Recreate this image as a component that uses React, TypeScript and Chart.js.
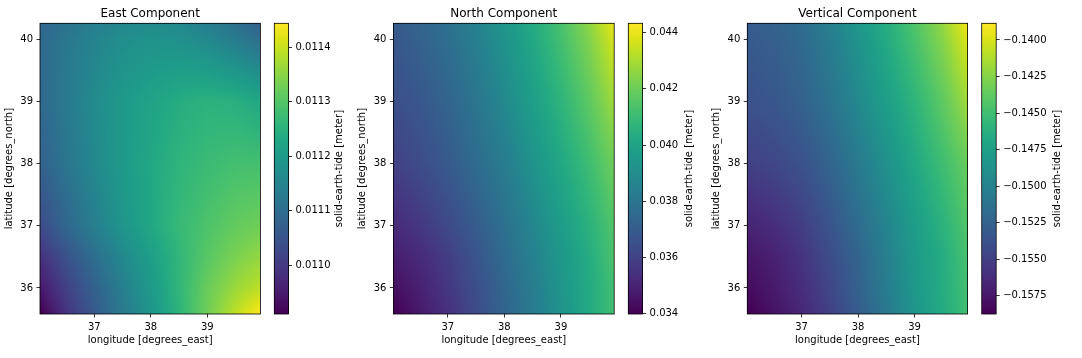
import React, { useEffect, useRef } from 'react';
import { Chart, registerables } from 'chart.js';

Chart.register(...registerables);

// ---------------- data ----------------
const LON_NODES = [36.05, 36.5, 37, 37.5, 38, 38.5, 39, 39.5, 39.95];
const LAT_NODES = [40.25, 40, 39, 38, 37, 36.5, 36, 35.6];

const LON_RANGE = [36.04, 39.94];
const LAT_RANGE = [35.58, 40.26];
const LON_TICKS = [37, 38, 39];
const LAT_TICKS = [36, 37, 38, 39, 40];

// rows follow LAT_NODES (north to south), columns follow LON_NODES (west to east)
const EAST_VALUES = [
  [0.011086, 0.011113, 0.01114, 0.011156, 0.011166, 0.011161, 0.01114, 0.011108, 0.01107],
  [0.011092, 0.011124, 0.01115, 0.011172, 0.011182, 0.011177, 0.011161, 0.011134, 0.011102],
  [0.011092, 0.011129, 0.011166, 0.011198, 0.01122, 0.011241, 0.011252, 0.011246, 0.01123],
  [0.011076, 0.011118, 0.011161, 0.011198, 0.01123, 0.011257, 0.011273, 0.011284, 0.011284],
  [0.011033, 0.011086, 0.01114, 0.011188, 0.01123, 0.011268, 0.011294, 0.011316, 0.011327],
  [0.010985, 0.011044, 0.011102, 0.011161, 0.011209, 0.011262, 0.011305, 0.011337, 0.011359],
  [0.010947, 0.011011, 0.011076, 0.01114, 0.011198, 0.011262, 0.011321, 0.011364, 0.011391],
  [0.01091, 0.01099, 0.01106, 0.011129, 0.011188, 0.011257, 0.011327, 0.011391, 0.011444],
];

const NORTH_VALUES = [
  [0.03699, 0.0373, 0.03782, 0.03854, 0.03937, 0.0403, 0.04133, 0.04257, 0.04402],
  [0.03678, 0.0372, 0.03771, 0.03844, 0.03926, 0.04019, 0.04123, 0.04237, 0.04371],
  [0.03647, 0.03678, 0.0373, 0.03802, 0.03885, 0.03978, 0.04071, 0.04174, 0.04288],
  [0.03595, 0.03637, 0.03689, 0.03761, 0.03833, 0.03926, 0.04019, 0.04112, 0.04206],
  [0.03523, 0.03564, 0.03626, 0.03699, 0.03782, 0.03875, 0.03968, 0.04061, 0.04154],
  [0.03482, 0.03523, 0.03585, 0.03668, 0.03761, 0.03854, 0.03947, 0.0404, 0.04143],
  [0.0344, 0.03492, 0.03564, 0.03647, 0.0374, 0.03833, 0.03937, 0.0403, 0.04123],
  [0.03399, 0.03471, 0.03544, 0.03637, 0.0373, 0.03833, 0.03926, 0.0403, 0.04123],
];

const VERTICAL_VALUES = [
  [-0.15298, -0.15258, -0.15179, -0.1502, -0.14821, -0.14642, -0.14443, -0.14204, -0.13926],
  [-0.15318, -0.15278, -0.15199, -0.1504, -0.14861, -0.14662, -0.14463, -0.14244, -0.13985],
  [-0.15378, -0.15338, -0.15258, -0.15119, -0.1494, -0.14761, -0.14582, -0.14383, -0.14164],
  [-0.15497, -0.15457, -0.15378, -0.15239, -0.1506, -0.14881, -0.14682, -0.14503, -0.14343],
  [-0.15676, -0.15616, -0.15517, -0.15358, -0.15179, -0.1498, -0.14781, -0.14602, -0.14423],
  [-0.15756, -0.15696, -0.15577, -0.15418, -0.15239, -0.1502, -0.14801, -0.14642, -0.14463],
  [-0.15815, -0.15736, -0.15616, -0.15457, -0.15258, -0.1504, -0.14821, -0.14642, -0.14483],
  [-0.15875, -0.15776, -0.15656, -0.15497, -0.15298, -0.15079, -0.14841, -0.14662, -0.14483],
];

const EAST_RANGE = [0.01091, 0.011444];
const NORTH_RANGE = [0.03399, 0.04433];
const VERTICAL_RANGE = [-0.15875, -0.13886];

const EAST_TICKS = [0.011, 0.0111, 0.0112, 0.0113, 0.0114];
const EAST_TICK_LABELS = ['0.0110', '0.0111', '0.0112', '0.0113', '0.0114'];
const NORTH_TICKS = [0.034, 0.036, 0.038, 0.04, 0.042, 0.044];
const NORTH_TICK_LABELS = ['0.034', '0.036', '0.038', '0.040', '0.042', '0.044'];
const VERTICAL_TICKS = [-0.1575, -0.155, -0.1525, -0.15, -0.1475, -0.145, -0.1425, -0.14];
const VERTICAL_TICK_LABELS = [
  '\u22120.1575', '\u22120.1550', '\u22120.1525', '\u22120.1500',
  '\u22120.1475', '\u22120.1450', '\u22120.1425', '\u22120.1400',
];

const TITLES = ['East Component', 'North Component', 'Vertical Component'];
const X_LABEL = 'longitude [degrees_east]';
const Y_LABEL = 'latitude [degrees_north]';
const CB_LABEL = 'solid-earth-tide [meter]';

// ---------------- style / layout ----------------
const VIRIDIS = [
  '#440154', '#471365', '#482475', '#463480', '#414487', '#3b528b', '#355f8d',
  '#2f6c8e', '#2a788e', '#25848e', '#21918c', '#1e9c89', '#22a884', '#2fb47c',
  '#44bf70', '#5ec962', '#7ad151', '#9bd93c', '#bddf26', '#dfe318', '#fde725',
];
const VIRIDIS_RGB = VIRIDIS.map((h) => [
  parseInt(h.slice(1, 3), 16),
  parseInt(h.slice(3, 5), 16),
  parseInt(h.slice(5, 7), 16),
]);

function viridis(t: number): number[] {
  const tt = Math.max(0, Math.min(1, t)) * (VIRIDIS_RGB.length - 1);
  const i = Math.min(VIRIDIS_RGB.length - 2, Math.floor(tt));
  const f = tt - i;
  const a = VIRIDIS_RGB[i];
  const b = VIRIDIS_RGB[i + 1];
  return [a[0] + (b[0] - a[0]) * f, a[1] + (b[1] - a[1]) * f, a[2] + (b[2] - a[2]) * f];
}

function locate(nodes: number[], v: number): [number, number] {
  for (let i = 0; i < nodes.length - 1; i++) {
    const a = nodes[i];
    const b = nodes[i + 1];
    if (v >= Math.min(a, b) && v <= Math.max(a, b)) return [i, (v - a) / (b - a)];
  }
  const asc = nodes[nodes.length - 1] > nodes[0];
  if ((v < nodes[0]) === asc) return [0, 0];
  return [nodes.length - 2, 1];
}

const H = 358;
const PLOT_TOP = 23.3;
const PLOT_BOTTOM = 314;
const FONT = "'DejaVu Sans', 'Liberation Sans', sans-serif";

Chart.defaults.font.family = FONT;
Chart.defaults.font.size = 10;
Chart.defaults.color = '#000';

type Panel = {
  title: string;
  values: number[][];
  range: number[];
  ticks: number[];
  tickLabels: string[];
  plotL: number;
  plotR: number;
  canvasL: number;
  canvasW: number;
  cbL: number;
  cbR: number;
  cbCanvasL: number;
  cbCanvasW: number;
  cbLabelX: number;
};

const PANELS: Panel[] = [
  {
    title: TITLES[0], values: EAST_VALUES, range: EAST_RANGE, ticks: EAST_TICKS, tickLabels: EAST_TICK_LABELS,
    plotL: 40, plotR: 260.4, canvasL: 0, canvasW: 271,
    cbL: 274.3, cbR: 288.5, cbCanvasL: 270, cbCanvasW: 100, cbLabelX: 339.5,
  },
  {
    title: TITLES[1], values: NORTH_VALUES, range: NORTH_RANGE, ticks: NORTH_TICKS, tickLabels: NORTH_TICK_LABELS,
    plotL: 393.4, plotR: 614.2, canvasL: 353, canvasW: 272,
    cbL: 628.3, cbR: 642.6, cbCanvasL: 624, cbCanvasW: 100, cbLabelX: 689,
  },
  {
    title: TITLES[2], values: VERTICAL_VALUES, range: VERTICAL_RANGE, ticks: VERTICAL_TICKS, tickLabels: VERTICAL_TICK_LABELS,
    plotL: 747.3, plotR: 967.6, canvasL: 707, canvasW: 272,
    cbL: 981.7, cbR: 996.2, cbCanvasL: 977, cbCanvasW: 105, cbLabelX: 1057,
  },
];

const framePlugin = {
  id: 'frame',
  afterDraw(chart: any) {
    const { ctx, chartArea: a } = chart;
    ctx.save();
    ctx.strokeStyle = '#000';
    ctx.lineWidth = 0.8;
    ctx.strokeRect(a.left, a.top, a.right - a.left, a.bottom - a.top);
    ctx.restore();
  },
};

function heatPlugin(p: Panel) {
  return {
    id: 'heat',
    beforeDatasetsDraw(chart: any) {
      const { ctx, chartArea: a, scales } = chart;
      const aw = a.right - a.left;
      const ah = a.bottom - a.top;
      const w = Math.round(aw);
      const h = Math.round(ah);
      const off = document.createElement('canvas');
      off.width = w;
      off.height = h;
      const octx = off.getContext('2d')!;
      const img = octx.createImageData(w, h);
      const cols: [number, number][] = [];
      for (let i = 0; i < w; i++) {
        const lon = scales.x.getValueForPixel(a.left + ((i + 0.5) * aw) / w);
        cols.push(locate(LON_NODES, lon));
      }
      const rows: [number, number][] = [];
      for (let j = 0; j < h; j++) {
        const lat = scales.y.getValueForPixel(a.top + ((j + 0.5) * ah) / h);
        rows.push(locate(LAT_NODES, lat));
      }
      const vals = p.values;
      const [vmin, vmax] = p.range;
      for (let j = 0; j < h; j++) {
        const [r, fy] = rows[j];
        for (let i = 0; i < w; i++) {
          const [c, fx] = cols[i];
          const top = vals[r][c] * (1 - fx) + vals[r][c + 1] * fx;
          const bot = vals[r + 1][c] * (1 - fx) + vals[r + 1][c + 1] * fx;
          const v = top * (1 - fy) + bot * fy;
          const col = viridis((v - vmin) / (vmax - vmin));
          const k = (j * w + i) * 4;
          img.data[k] = col[0];
          img.data[k + 1] = col[1];
          img.data[k + 2] = col[2];
          img.data[k + 3] = 255;
        }
      }
      octx.putImageData(img, 0, 0);
      ctx.drawImage(off, a.left, a.top, aw, ah);
    },
  };
}

function colorbarPlugin(p: Panel) {
  return {
    id: 'cbfill',
    beforeDatasetsDraw(chart: any) {
      const { ctx, chartArea: a, scales } = chart;
      const aw = a.right - a.left;
      const ah = a.bottom - a.top;
      const w = Math.max(1, Math.round(aw));
      const h = Math.round(ah);
      const off = document.createElement('canvas');
      off.width = w;
      off.height = h;
      const octx = off.getContext('2d')!;
      const img = octx.createImageData(w, h);
      const [vmin, vmax] = p.range;
      for (let j = 0; j < h; j++) {
        const v = scales.y.getValueForPixel(a.top + ((j + 0.5) * ah) / h);
        const col = viridis((v - vmin) / (vmax - vmin));
        for (let i = 0; i < w; i++) {
          const k = (j * w + i) * 4;
          img.data[k] = col[0];
          img.data[k + 1] = col[1];
          img.data[k + 2] = col[2];
          img.data[k + 3] = 255;
        }
      }
      octx.putImageData(img, 0, 0);
      ctx.drawImage(off, a.left, a.top, aw, ah);
    },
  };
}

function cbLabelPlugin(p: Panel) {
  return {
    id: 'cblabel',
    afterDraw(chart: any) {
      const { ctx, chartArea: a } = chart;
      ctx.save();
      ctx.font = `10px ${FONT}`;
      ctx.fillStyle = '#000';
      ctx.translate(a.right + (p.cbLabelX - p.cbR), (a.top + a.bottom) / 2);
      ctx.rotate(-Math.PI / 2);
      ctx.textAlign = 'center';
      ctx.textBaseline = 'middle';
      ctx.fillText(CB_LABEL, 0, 0);
      ctx.restore();
    },
  };
}

const tickGrid = {
  drawOnChartArea: false,
  drawTicks: true,
  tickLength: 3.5,
  tickColor: '#000',
  tickWidth: 0.8,
  color: '#000',
  lineWidth: 0.8,
};

function heatConfig(p: Panel): any {
  return {
    type: 'scatter',
    data: { datasets: [] },
    options: {
      animation: false,
      responsive: false,
      devicePixelRatio: 1,
      layout: { padding: { left: 0, right: p.canvasW - (p.plotR - p.canvasL), top: 0, bottom: 0 } },
      plugins: {
        legend: { display: false },
        tooltip: { enabled: false },
        title: {
          display: true,
          text: p.title,
          fullSize: false,
          color: '#000',
          font: { size: 12, weight: 'normal', family: FONT },
          padding: { top: 6.5, bottom: 2.4 },
        },
      },
      scales: {
        x: {
          type: 'linear',
          position: 'bottom',
          min: LON_RANGE[0],
          max: LON_RANGE[1],
          afterBuildTicks: (s: any) => {
            s.ticks = LON_TICKS.map((v) => ({ value: v }));
          },
          afterFit: (s: any) => {
            s.height = H - PLOT_BOTTOM;
          },
          grid: tickGrid,
          border: { display: false },
          ticks: { padding: 3.5, maxRotation: 0, autoSkip: false, color: '#000', callback: (v: any) => String(v) },
          title: { display: true, text: X_LABEL, color: '#000', padding: { top: 0, bottom: 11.5 } },
        },
        y: {
          type: 'linear',
          position: 'left',
          min: LAT_RANGE[0],
          max: LAT_RANGE[1],
          afterBuildTicks: (s: any) => {
            s.ticks = LAT_TICKS.map((v) => ({ value: v }));
          },
          afterFit: (s: any) => {
            s.width = p.plotL - p.canvasL;
          },
          grid: tickGrid,
          border: { display: false },
          ticks: { padding: 3.5, autoSkip: false, color: '#000', callback: (v: any) => String(v) },
          title: { display: true, text: Y_LABEL, color: '#000', padding: { top: 3.5, bottom: 0 } },
        },
      },
    },
    plugins: [heatPlugin(p), framePlugin],
  };
}

function cbConfig(p: Panel): any {
  return {
    type: 'scatter',
    data: { datasets: [] },
    options: {
      animation: false,
      responsive: false,
      devicePixelRatio: 1,
      layout: { padding: { left: p.cbL - p.cbCanvasL, right: 0, top: PLOT_TOP, bottom: H - PLOT_BOTTOM } },
      plugins: { legend: { display: false }, tooltip: { enabled: false }, title: { display: false } },
      scales: {
        x: { type: 'linear', display: false, min: 0, max: 1 },
        y: {
          type: 'linear',
          position: 'right',
          min: p.range[0],
          max: p.range[1],
          afterBuildTicks: (s: any) => {
            s.ticks = p.ticks.map((v) => ({ value: v }));
          },
          afterFit: (s: any) => {
            s.width = p.cbCanvasW - (p.cbR - p.cbCanvasL);
          },
          grid: tickGrid,
          border: { display: false },
          ticks: { padding: 3.5, autoSkip: false, color: '#000', callback: (_v: any, i: number) => p.tickLabels[i] },
        },
      },
    },
    plugins: [colorbarPlugin(p), framePlugin, cbLabelPlugin(p)],
  };
}

export default function App() {
  const refs = useRef<(HTMLCanvasElement | null)[]>([]);

  useEffect(() => {
    const charts: Chart[] = [];
    PANELS.forEach((p, k) => {
      const hc = refs.current[2 * k];
      const cc = refs.current[2 * k + 1];
      if (hc) charts.push(new Chart(hc, heatConfig(p)));
      if (cc) charts.push(new Chart(cc, cbConfig(p)));
    });
    return () => charts.forEach((c) => c.destroy());
  }, []);

  return (
    <div
      style={{
        position: 'fixed',
        left: 0,
        top: 0,
        width: 1082,
        height: H,
        background: '#fff',
        overflow: 'hidden',
      }}
    >
      {PANELS.map((p, k) => (
        <React.Fragment key={k}>
          <canvas
            ref={(el) => {
              refs.current[2 * k] = el;
            }}
            width={p.canvasW}
            height={H}
            style={{ position: 'absolute', left: p.canvasL, top: 0, width: p.canvasW, height: H }}
          />
          <canvas
            ref={(el) => {
              refs.current[2 * k + 1] = el;
            }}
            width={p.cbCanvasW}
            height={H}
            style={{ position: 'absolute', left: p.cbCanvasL, top: 0, width: p.cbCanvasW, height: H }}
          />
        </React.Fragment>
      ))}
    </div>
  );
}
